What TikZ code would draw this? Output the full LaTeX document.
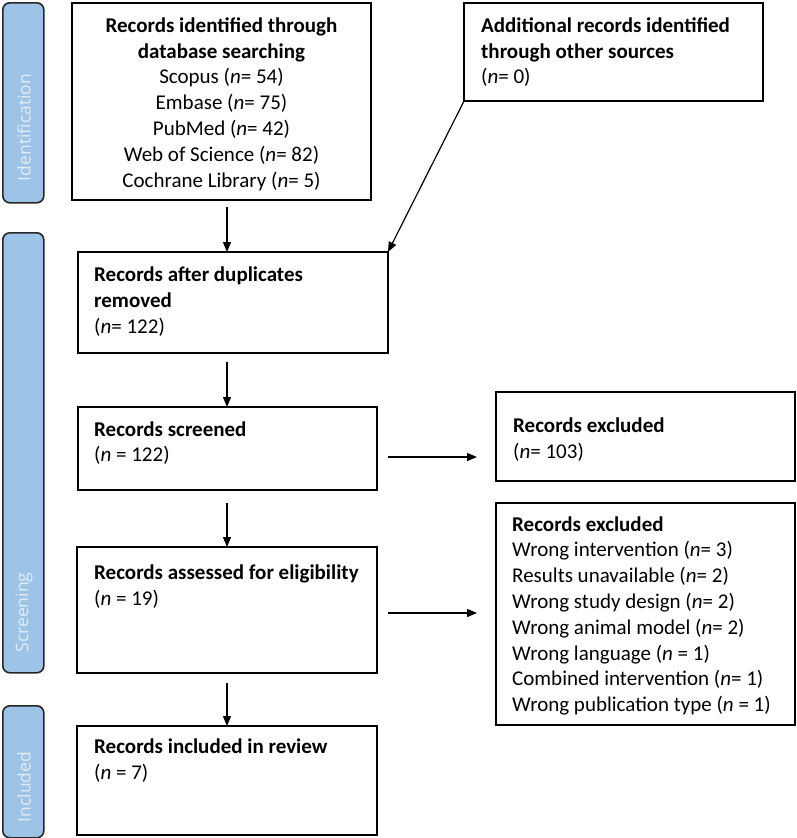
\documentclass[tikz,border=0pt]{standalone}
\usepackage{fontspec}
\setmainfont{Carlito}
\newfontfamily\barfont{Open Sans}
\usetikzlibrary{arrows.meta}
\definecolor{barfill}{HTML}{9DC3E6}
\definecolor{bartext}{HTML}{E2ECF7}
\begin{document}
\begin{tikzpicture}[x=1pt,y=-1pt,
  box/.style={draw=black, line width=1.8pt, inner sep=0pt, outer sep=0pt, anchor=north west},
  bar/.style={draw=black!85, line width=1.6pt, fill=barfill, rounded corners=7pt, inner sep=0pt, anchor=north west, minimum width=41pt},
  bartxt/.style={rotate=90, text=bartext, font=\barfont\fontsize{17.5}{20}\selectfont, inner sep=0pt},
  txt/.style={anchor=base west, inner sep=0pt, font=\fontsize{21}{25.8}\selectfont},
  ctxt/.style={anchor=base, inner sep=0pt, font=\fontsize{21}{25.8}\selectfont},
  arr/.style={line width=1.2pt, -{Triangle[length=10pt,width=8pt]}}]
\useasboundingbox (0,0) rectangle (797,838);
% phase bars
\node[bar, minimum height=200pt] (bid) at (2,2) {};
\node[bar, minimum height=440pt] (bsc) at (2,232) {};
\node[bar, minimum height=132pt] (bin) at (2,705) {};
\node[bartxt] (tid) at (24,127.5) {Identification};
\node[bartxt] (tsc) at (24,612.5) {Screening};
\node[bartxt] (tin) at (24,787) {Included};
% boxes
\node[box, minimum width=299pt, minimum height=197pt] (db) at (72,3) {};
\node[box, minimum width=299pt, minimum height=98pt] (add) at (464,3) {};
\node[box, minimum width=310pt, minimum height=101pt] (dup) at (78,252) {};
\node[box, minimum width=299pt, minimum height=83pt] (scr) at (78,407) {};
\node[box, minimum width=299pt, minimum height=89pt] (ex1) at (496,392) {};
\node[box, minimum width=300pt, minimum height=126pt] (asm) at (77,547) {};
\node[box, minimum width=299pt, minimum height=222pt] (ex2) at (496,503) {};
\node[box, minimum width=300pt, minimum height=109pt] (inc) at (77,726) {};
% texts
\node[ctxt] (dbt) at (221.5,32.3) {\begin{tabular}[t]{@{}c@{}}\textbf{Records identified through}\\\textbf{database searching}\\Scopus (\textit{n}= 54)\\Embase (\textit{n}= 75)\\PubMed (\textit{n}= 42)\\Web of Science (\textit{n}= 82)\\Cochrane Library (\textit{n}= 5)\end{tabular}};
\node[txt] (addt) at (481,32.3) {\begin{tabular}[t]{@{}l@{}}\textbf{Additional records identified}\\\textbf{through other sources}\\(\textit{n}= 0)\end{tabular}};
\node[txt] (dupt) at (94,281.7) {\begin{tabular}[t]{@{}l@{}}\textbf{Records after duplicates}\\\textbf{removed}\\(\textit{n}= 122)\end{tabular}};
\node[txt] (scrt) at (94,436) {\begin{tabular}[t]{@{}l@{}}\textbf{Records screened}\\(\textit{n} = 122)\end{tabular}};
\node[txt] (ex1t) at (513,432.7) {\begin{tabular}[t]{@{}l@{}}\textbf{Records excluded}\\(\textit{n}= 103)\end{tabular}};
\node[txt] (asmt) at (94,579.3) {\begin{tabular}[t]{@{}l@{}}\textbf{Records assessed for eligibility}\\(\textit{n} = 19)\end{tabular}};
\node[txt] (ex2t) at (512,531) {\begin{tabular}[t]{@{}l@{}}\textbf{Records excluded}\\Wrong intervention (\textit{n}= 3)\\Results unavailable (\textit{n}= 2)\\Wrong study design (\textit{n}= 2)\\Wrong animal model (\textit{n}= 2)\\Wrong language (\textit{n} = 1)\\Combined intervention (\textit{n}= 1)\\Wrong publication type (\textit{n} = 1)\end{tabular}};
\node[txt] (inct) at (94,753.3) {\begin{tabular}[t]{@{}l@{}}\textbf{Records included in review}\\(\textit{n} = 7)\end{tabular}};
% connectors
\coordinate (a1) at (227,207);
\coordinate (a2) at (227,362);
\coordinate (a3) at (388,457);
\coordinate (a3e) at (477,457);
\coordinate (a4) at (227,503);
\coordinate (a5) at (388,613);
\coordinate (a5e) at (477,613);
\coordinate (a6) at (227,683);
\draw[arr] (a1) -- (a1 |- dup.north);
\draw[arr] (add.south west) -- (dup.north east);
\draw[arr] (a2) -- (a2 |- scr.north);
\draw[arr] (a3) -- (a3e);
\draw[arr] (a4) -- (a4 |- asm.north);
\draw[arr] (a5) -- (a5e);
\draw[arr] (a6) -- (a6 |- inc.north);
\end{tikzpicture}
\end{document}
